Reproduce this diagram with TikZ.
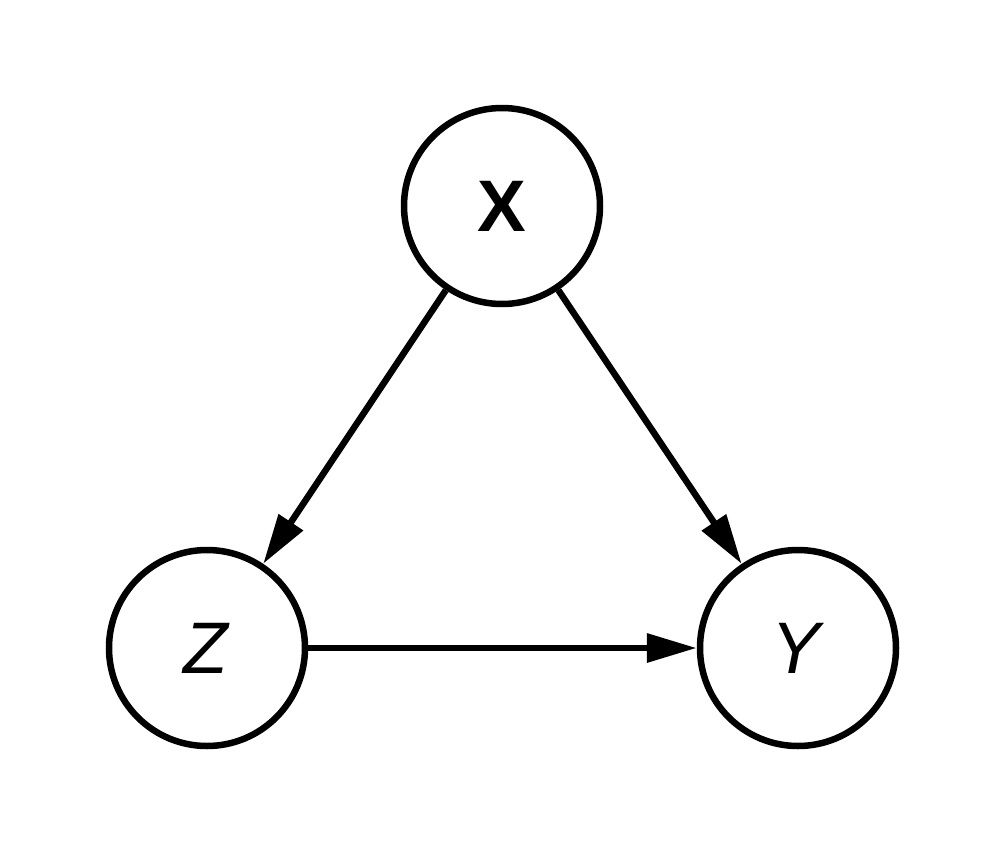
\documentclass[tikz,border=0pt]{standalone}
\usepackage{fontspec}
\setmainfont{Liberation Sans}
\usetikzlibrary{arrows.meta}
\begin{document}
\begin{tikzpicture}[x=1pt,y=-1pt,
  var/.style={circle,draw,line width=6.5pt,minimum size=196pt,inner sep=0pt,font=\fontsize{73}{80}\selectfont},
  edge/.style={line width=6.5pt,-{Triangle[length=50pt,width=28pt]}}]
\useasboundingbox (0,0) rectangle (1005,857);
\node[var] (X) at (502,206) {\textbf{X}};
\node[var] (Z) at (207,648) {\textit{Z}};
\node[var] (Y) at (798,648) {\textit{Y}};
\draw[edge] (X) -- (Z);
\draw[edge] (X) -- (Y);
\draw[edge] (Z) -- (Y);
\end{tikzpicture}
\end{document}
